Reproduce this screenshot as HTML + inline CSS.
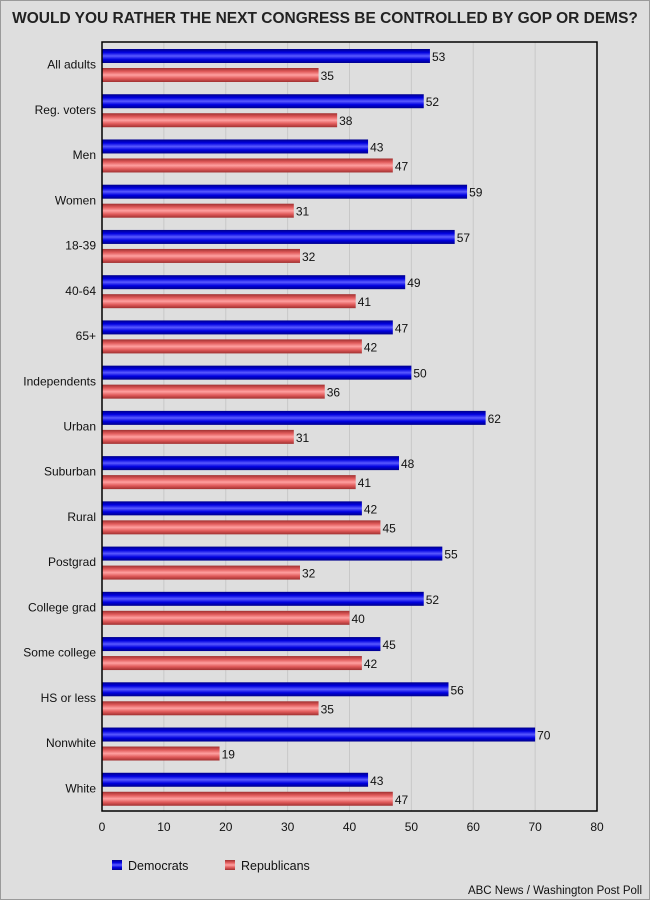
<!DOCTYPE html>
<html><head><meta charset="utf-8"><style>
body{margin:0;background:#dedede;}
#wrap{position:relative;width:648px;height:898px;border:1px solid #9a9a9a;background:#dedede;font-family:"Liberation Sans",sans-serif;overflow:hidden}
</style></head><body>
<div id="wrap">
<svg id="chart" width="648" height="898">
<defs>
<linearGradient id="gb" x1="0" y1="0" x2="0" y2="1">
<stop offset="0" stop-color="#00008a"/><stop offset="0.25" stop-color="#0000e0"/><stop offset="0.5" stop-color="#5a5aff"/><stop offset="0.75" stop-color="#0000e0"/><stop offset="1" stop-color="#00008a"/></linearGradient>
<linearGradient id="gr" x1="0" y1="0" x2="0" y2="1">
<stop offset="0" stop-color="#a03030"/><stop offset="0.25" stop-color="#e05a5a"/><stop offset="0.5" stop-color="#ffa0a0"/><stop offset="0.75" stop-color="#e05a5a"/><stop offset="1" stop-color="#a03030"/></linearGradient>
</defs>
<text x="324" y="22" text-anchor="middle" font-size="15.5" font-weight="bold" fill="#222">WOULD YOU RATHER THE NEXT CONGRESS BE CONTROLLED BY GOP OR DEMS?</text>
</svg>
</div>
<script>
const categories=["All adults","Reg. voters","Men","Women","18-39","40-64","65+","Independents","Urban","Suburban","Rural","Postgrad","College grad","Some college","HS or less","Nonwhite","White"];
const democrats=[53,52,43,59,57,49,47,50,62,48,42,55,52,45,56,70,43];
const republicans=[35,38,47,31,32,41,42,36,31,41,45,32,40,42,35,19,47];
const ticks=[0,10,20,30,40,50,60,70,80];
const svg=document.getElementById('chart');const NS='http://www.w3.org/2000/svg';
const L=101,R=596,T=41,B=810,maxV=80;
const x=v=>L+(R-L)*v/maxV;
const band=(B-T)/categories.length;
function mk(t,a){const e=document.createElementNS(NS,t);for(const k in a)e.setAttribute(k,a[k]);svg.appendChild(e);return e;}
ticks.forEach(t=>{
 if(t>0&&t<maxV){const g=mk('line',{x1:x(t),x2:x(t),y1:T,y2:B,stroke:'#c8c8c8','stroke-width':1});
 
 }
 const tl=mk('text',{x:x(t),y:830,'text-anchor':'middle','font-size':12,fill:'#111'});tl.textContent=t;
 
 
});
categories.forEach((c,i)=>{
 const y0=T+i*band;
 const lab=mk('text',{x:95,y:y0+band/2+4,'text-anchor':'end','font-size':12,fill:'#111'});lab.textContent=c;
 
 
 [[democrats[i],'url(#gb)',7,'bar-democrats'],[republicans[i],'url(#gr)',26,'bar-republicans']].forEach(([v,f,off,n])=>{
  const r=mk('rect',{x:L,y:y0+off,width:x(v)-L,height:14,fill:f});
  
  
  const vt=mk('text',{x:x(v)+2,y:y0+off+12,'font-size':12,fill:'#111'});vt.textContent=v;
  
  
 });
});
const ax=mk('rect',{x:L,y:T,width:R-L,height:B-T,fill:'none',stroke:'#000','stroke-width':1.5});


[['url(#gb)',111,'Democrats','legend-democrats'],['url(#gr)',224,'Republicans','legend-republicans']].forEach(([f,lx,t,n])=>{
 const s=mk('rect',{x:lx,y:859,width:10,height:10,fill:f});
 
 
 const tt=mk('text',{x:lx+16,y:869,'font-size':12.5,fill:'#111'});tt.textContent=t;
 
 
});
const src=mk('text',{x:641,y:893,'text-anchor':'end','font-size':11.5,fill:'#111'});src.textContent='ABC News / Washington Post Poll';


</script>
</body></html>
